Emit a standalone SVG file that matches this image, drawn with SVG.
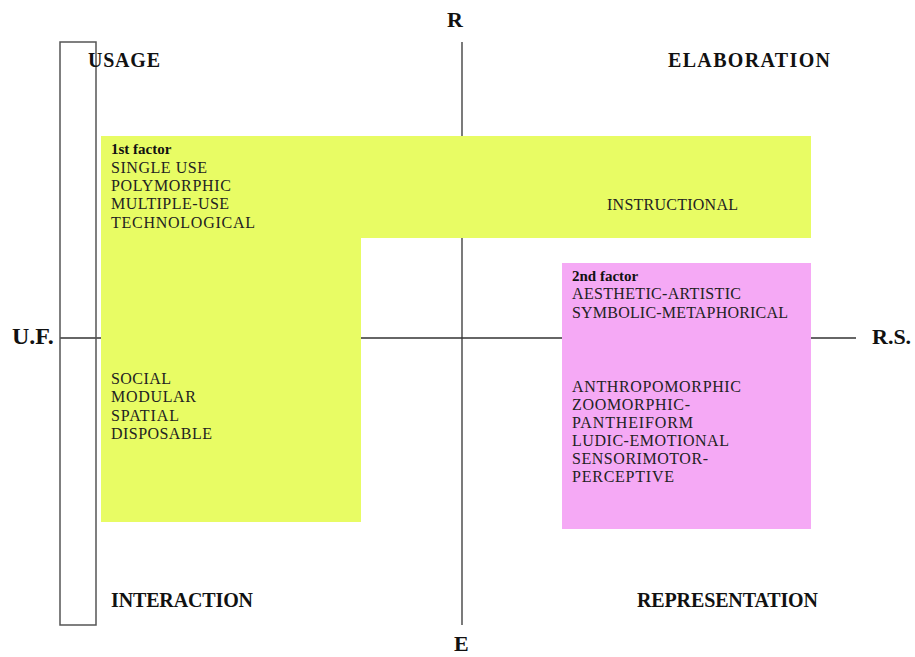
<svg xmlns="http://www.w3.org/2000/svg" width="915" height="657" viewBox="0 0 915 657">
<style>
.ax{stroke:#333;stroke-width:1.3;fill:none}
.hd{font-family:"Liberation Serif",serif;font-weight:bold;font-size:20px;fill:#111}
.axl{font-family:"Liberation Serif",serif;font-weight:bold;font-size:22px;fill:#111}
.tx{font-family:"Liberation Serif",serif;font-size:16px;fill:#222}
.fb{font-family:"Liberation Serif",serif;font-weight:bold;font-size:15px;fill:#111}
</style>
<rect width="915" height="657" fill="#fff"/>
<g id="connectors">
<line class="ax" x1="462" y1="42" x2="462" y2="625"/>
<line class="ax" x1="60" y1="338" x2="856" y2="338"/>
</g>
<g id="side-bar"><rect x="60" y="42" width="36" height="583" fill="none" stroke="#555" stroke-width="1.5"/></g>
<g id="factor1">
<path d="M101 136H811V238H361V522H101Z" fill="#e8fc64"/>
<text class="fb" x="111" y="154">1st factor</text>
<text class="tx" x="111" y="173" textLength="96">SINGLE USE</text>
<text class="tx" x="111" y="191" textLength="120">POLYMORPHIC</text>
<text class="tx" x="111" y="209" textLength="118">MULTIPLE-USE</text>
<text class="tx" x="111" y="228" textLength="144">TECHNOLOGICAL</text>
<text class="tx" x="607" y="210" textLength="131">INSTRUCTIONAL</text>
<text class="tx" x="111" y="384" textLength="60">SOCIAL</text>
<text class="tx" x="111" y="402" textLength="85">MODULAR</text>
<text class="tx" x="111" y="421" textLength="68">SPATIAL</text>
<text class="tx" x="111" y="439" textLength="101">DISPOSABLE</text>
</g>
<g id="factor2">
<rect x="562" y="263" width="249" height="266" fill="#f5a9f5"/>
<text class="fb" x="572" y="281">2nd factor</text>
<text class="tx" x="572" y="299" textLength="169">AESTHETIC-ARTISTIC</text>
<text class="tx" x="572" y="318" textLength="216">SYMBOLIC-METAPHORICAL</text>
<text class="tx" x="572" y="392" textLength="169">ANTHROPOMORPHIC</text>
<text class="tx" x="572" y="410" textLength="118">ZOOMORPHIC-</text>
<text class="tx" x="572" y="428" textLength="121">PANTHEIFORM</text>
<text class="tx" x="572" y="446" textLength="157">LUDIC-EMOTIONAL</text>
<text class="tx" x="572" y="464" textLength="136">SENSORIMOTOR-</text>
<text class="tx" x="572" y="482" textLength="102">PERCEPTIVE</text>
</g>
<g id="labels">
<text class="axl" x="447" y="27">R</text>
<text class="axl" x="454" y="651">E</text>
<text class="axl" x="12" y="344" style="font-size:24px">U.F.</text>
<text class="axl" x="872" y="344">R.S.</text>
<text class="hd" x="88" y="67" textLength="72">USAGE</text>
<text class="hd" x="668" y="67" textLength="162">ELABORATION</text>
<text class="hd" x="111" y="607" textLength="142">INTERACTION</text>
<text class="hd" x="637" y="607" textLength="181">REPRESENTATION</text>
</g>
</svg>
